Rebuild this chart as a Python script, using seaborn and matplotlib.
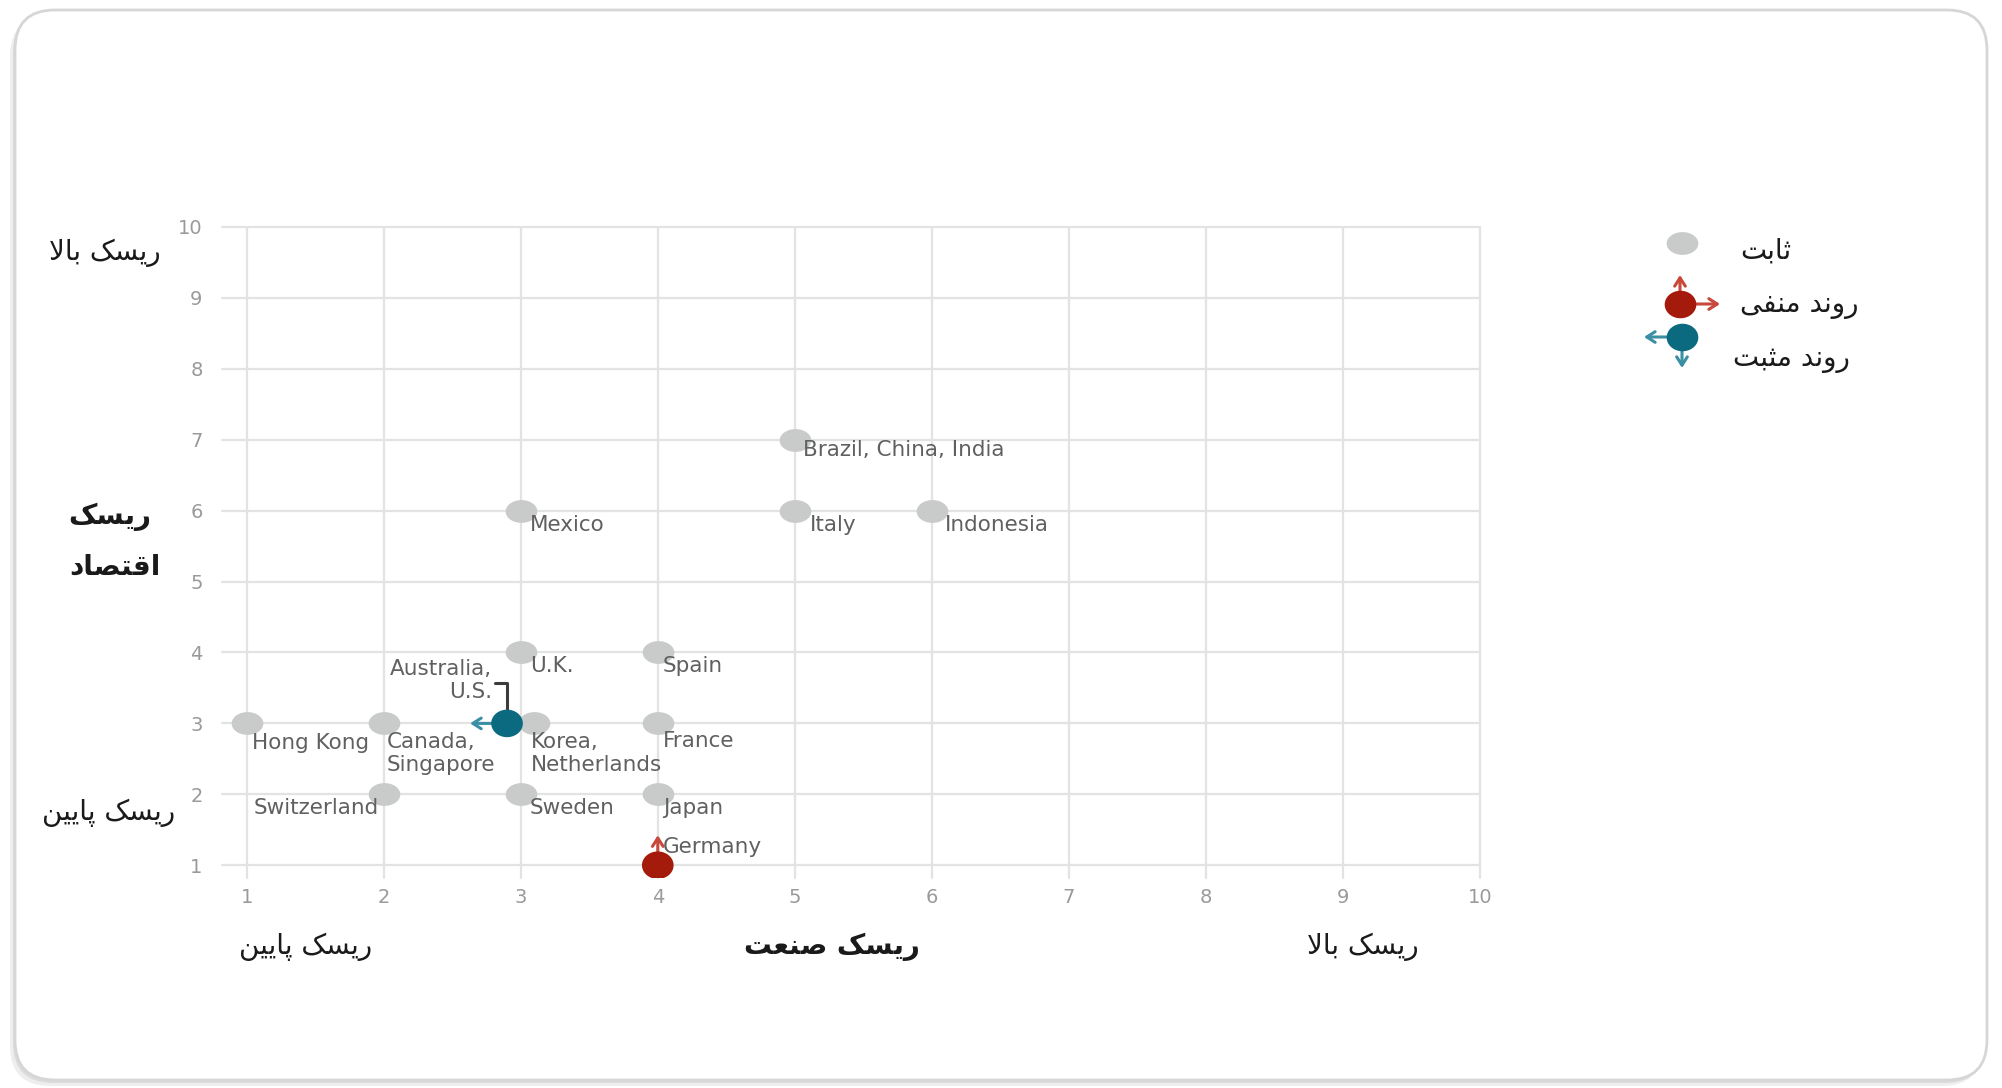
import numpy as np
import pandas as pd
import matplotlib
matplotlib.use("Agg")
import matplotlib.pyplot as plt
import seaborn as sns
from matplotlib.markers import MarkerStyle
from matplotlib.text import OffsetFrom
from matplotlib.patches import FancyBboxPatch

# ---------------- data ----------------
stable_labels = ["Brazil, China, India", "Mexico", "Italy", "Indonesia", "U.K.", "Spain",
                 "Hong Kong", "Canada,\nSingapore", "Korea,\nNetherlands", "France",
                 "Switzerland", "Sweden", "Japan"]
stable_industry = [5, 3, 5, 6, 3, 4, 1, 2, 3.1, 4, 2, 3, 4]
stable_economy = [7, 6, 6, 6, 4, 4, 3, 3, 3, 3, 2, 2, 2]

trend_labels = ["Germany", "Australia,\nU.S."]
trend_industry = [4, 2.9]
trend_economy = [1, 3]
trend_kind = ["negative", "positive"]
trend_direction = ["up", "left"]

ticks = [1, 2, 3, 4, 5, 6, 7, 8, 9, 10]

legend_labels = ["ثابت", "روند منفی", "روند مثبت"]
y_high = "ریسک بالا"
y_low = "ریسک پایین"
y_title = ["ریسک", "اقتصاد"]
x_low = "ریسک پایین"
x_title = "ریسک صنعت"
x_high = "ریسک بالا"

# label placement (pixel offsets from the dot, alignment)
stable_offsets = [(8, -10, "left"), (9, -14, "left"), (15, -14, "left"), (13, -14, "left"),
                  (9, -14, "left"), (5, -14, "left"), (5, -20, "left"), (3, -30, "left"),
                  (-4, -30, "left"), (5, -18, "left"), (-5, -14, "right"), (9, -14, "left"),
                  (5, -14, "left")]
trend_offsets = [(5, 18, "left"), (-15, 43, "right")]

GRAY = "#c9cbca"
RED = "#a51b0b"
RED_ARROW = "#c8483a"
TEAL = "#0b6a80"
TEAL_ARROW = "#3a8fa5"
palette = {"negative": RED, "positive": TEAL}
arrow_colors = {"negative": RED_ARROW, "positive": TEAL_ARROW}

# ---------------- Arabic-script shaping (presentation forms, RTL) ----------------
FORMS = {
    "\u0627": ("\uFE8D", "\uFE8E", None, None),
    "\u0628": ("\uFE8F", "\uFE90", "\uFE91", "\uFE92"),
    "\u067E": ("\uFB56", "\uFB57", "\uFB58", "\uFB59"),
    "\u062A": ("\uFE95", "\uFE96", "\uFE97", "\uFE98"),
    "\u062B": ("\uFE99", "\uFE9A", "\uFE9B", "\uFE9C"),
    "\u062F": ("\uFEA9", "\uFEAA", None, None),
    "\u0631": ("\uFEAD", "\uFEAE", None, None),
    "\u0633": ("\uFEB1", "\uFEB2", "\uFEB3", "\uFEB4"),
    "\u0635": ("\uFEB9", "\uFEBA", "\uFEBB", "\uFEBC"),
    "\u0639": ("\uFEC9", "\uFECA", "\uFECB", "\uFECC"),
    "\u0641": ("\uFED1", "\uFED2", "\uFED3", "\uFED4"),
    "\u0642": ("\uFED5", "\uFED6", "\uFED7", "\uFED8"),
    "\u06A9": ("\uFB8E", "\uFB8F", "\uFB90", "\uFB91"),
    "\u0644": ("\uFEDD", "\uFEDE", "\uFEDF", "\uFEE0"),
    "\u0645": ("\uFEE1", "\uFEE2", "\uFEE3", "\uFEE4"),
    "\u0646": ("\uFEE5", "\uFEE6", "\uFEE7", "\uFEE8"),
    "\u0648": ("\uFEED", "\uFEEE", None, None),
    "\u06CC": ("\uFBFC", "\uFBFD", "\uFBFE", "\uFBFF"),
}


def fa(s):
    def dual(c):
        return c in FORMS and FORMS[c][2] is not None
    out = []
    n = len(s)
    i = 0
    while i < n:
        c = s[i]
        if c not in FORMS:
            out.append(c)
            i += 1
            continue
        prev = s[i - 1] if i > 0 else None
        jp = prev is not None and dual(prev)
        if c == "\u0644" and i + 1 < n and s[i + 1] == "\u0627":
            out.append("\uFEFC" if jp else "\uFEFB")
            i += 2
            continue
        nxt = s[i + 1] if i + 1 < n else None
        jn = dual(c) and nxt is not None and nxt in FORMS
        iso, fin, ini, med = FORMS[c]
        if jp and jn:
            out.append(med)
        elif jp:
            out.append(fin)
        elif jn:
            out.append(ini)
        else:
            out.append(iso)
        i += 1
    return "".join(reversed(out))


def ellipse(aspect):
    t = np.linspace(0, 2 * np.pi, 60)
    return MarkerStyle(np.column_stack([np.cos(t), aspect * np.sin(t)]))


DIRS = {"up": (0, 1), "down": (0, -1), "left": (-1, 0), "right": (1, 0)}

# ---------------- figure ----------------
sns.set_theme(style="white")
plt.rcParams["font.family"] = ["DejaVu Sans"]

W, H = 2002, 1088
fig = plt.figure(figsize=(W / 100, H / 100), dpi=100)

bg = fig.add_axes([0, 0, 1, 1], zorder=0)
bg.set_xlim(0, W)
bg.set_ylim(H, 0)
bg.axis("off")

# card frame with soft shadow
for dx, dy, a in [(-5, 6, 0.25), (-2, 3, 0.35)]:
    bg.add_patch(FancyBboxPatch((15 + dx, 10 + dy), 1972, 1070,
                                boxstyle="round,pad=0,rounding_size=40",
                                facecolor="#bdbdbd", edgecolor="none", alpha=a, zorder=1))
bg.add_patch(FancyBboxPatch((15, 10), 1972, 1070, boxstyle="round,pad=0,rounding_size=40",
                            facecolor="white", edgecolor="#d6d6d6", lw=2, zorder=2))

ax = fig.add_axes([222 / W, 1 - 878 / H, (1480 - 222) / W, (878 - 227) / H], zorder=2)
ax.set_facecolor("none")

df_stable = pd.DataFrame({"industry": stable_industry, "economy": stable_economy,
                          "label": stable_labels})
df_trend = pd.DataFrame({"industry": trend_industry, "economy": trend_economy,
                         "label": trend_labels, "kind": trend_kind,
                         "direction": trend_direction})

DOT = 520
sns.scatterplot(data=df_stable, x="industry", y="economy", color=GRAY, s=DOT,
                marker=ellipse(0.72), linewidth=0, ax=ax, zorder=3)

ARROW = "->,head_length=0.5,head_width=0.32"
# trend arrows (under the dots)
trend_arrow_len = [30, 37]
for (_, r), L in zip(df_trend.iterrows(), trend_arrow_len):
    ux, uy = DIRS[r["direction"]]
    ax.annotate("", xy=(ux * L, uy * L),
                xycoords=OffsetFrom(ax.transData, (r["industry"], r["economy"]), unit="pixels"),
                xytext=(r["industry"], r["economy"]), textcoords="data",
                arrowprops=dict(arrowstyle=ARROW, color=arrow_colors[r["kind"]], lw=2.2,
                                shrinkA=0, shrinkB=0), zorder=4)

sns.scatterplot(data=df_trend, x="industry", y="economy", hue="kind", palette=palette,
                s=DOT, marker=ellipse(0.87), linewidth=0, ax=ax, zorder=5, legend=False)

# labels
label_kw = dict(fontsize=15.5, color="#606060", textcoords="offset pixels", zorder=6,
                linespacing=1.15)
for (_, r), (dx, dy, ha) in zip(df_stable.iterrows(), stable_offsets):
    ax.annotate(r["label"], (r["industry"], r["economy"]), xytext=(dx, dy),
                ha=ha, va="center", multialignment=ha, **label_kw)
for (_, r), (dx, dy, ha) in zip(df_trend.iterrows(), trend_offsets):
    ax.annotate(r["label"], (r["industry"], r["economy"]), xytext=(dx, dy),
                ha=ha, va="center", multialignment=ha, **label_kw)

# bracket from "U.S." to its dot
r = df_trend.iloc[1]
ax.annotate("", xy=(r["industry"], r["economy"]), xycoords="data",
            xytext=(-12, 40), textcoords="offset pixels",
            arrowprops=dict(arrowstyle="-", color="#3c3c3c", lw=2.2,
                            connectionstyle="angle,angleA=0,angleB=90,rad=0",
                            shrinkA=0, shrinkB=0), zorder=4)

# axes styling
ax.set_xlim(0.82, 10)
ax.set_ylim(0.82, 10)
ax.set_xticks(ticks)
ax.set_yticks(ticks)
ax.set_xticklabels([str(t) for t in ticks])
ax.set_yticklabels([str(t) for t in ticks])
ax.grid(True, color="#e3e3e3", lw=1.6, zorder=0)
ax.set_axisbelow(True)
for gl in ax.get_xgridlines() + ax.get_ygridlines():
    gl.set_clip_on(False)
for s in ax.spines.values():
    s.set_visible(False)
ax.tick_params(axis="both", length=0, labelsize=14, labelcolor="#9a9a9a")
ax.tick_params(axis="x", pad=7)
ax.tick_params(axis="y", pad=14)
ax.set_xlabel("")
ax.set_ylabel("")

# Persian axis captions
fa_kw = dict(fontsize=20, color="#1a1a1a", family=["DejaVu Sans"], va="center", zorder=5)
bg.text(105, 253, fa(y_high), ha="center", **fa_kw)
bg.text(109, 813, fa(y_low), ha="center", **fa_kw)
bg.text(110, 517, fa(y_title[0]), ha="center", fontweight="bold", **fa_kw)
bg.text(115, 567, fa(y_title[1]), ha="center", fontweight="bold", **fa_kw)
bg.text(306, 947, fa(x_low), ha="center", **fa_kw)
bg.text(832, 947, fa(x_title), ha="center", fontweight="bold", **fa_kw)
bg.text(1363, 947, fa(x_high), ha="center", **fa_kw)

# legend (manual)
leg_marker_pos = [(1682, 243), (1680, 304), (1682, 337)]
leg_text_pos = [(1740, 251), (1740, 305), (1733, 359)]
leg_colors = [GRAY, RED, TEAL]
leg_aspect = [0.72, 0.87, 0.87]
leg_arrows = [[], [("up", 29, "negative"), ("right", 40, "negative")],
              [("left", 38, "positive"), ("down", 31, "positive")]]
for (mx, my), (tx, ty), col, asp, arrs, lab in zip(leg_marker_pos, leg_text_pos, leg_colors,
                                                   leg_aspect, leg_arrows, legend_labels):
    for d, L, kind in arrs:
        ux, uy = DIRS[d]
        bg.annotate("", xy=(ux * L, uy * L),
                    xycoords=OffsetFrom(bg.transData, (mx, my), unit="pixels"),
                    xytext=(mx, my), textcoords="data",
                    arrowprops=dict(arrowstyle=ARROW, color=arrow_colors[kind], lw=2.2,
                                    shrinkA=0, shrinkB=0),
                    zorder=4)
    bg.scatter([mx], [my], s=DOT, color=col, marker=ellipse(asp), linewidth=0, zorder=5)
    bg.text(tx, ty, fa(lab), ha="left", **fa_kw)

fig.savefig("out.png", dpi=100, facecolor="white")
